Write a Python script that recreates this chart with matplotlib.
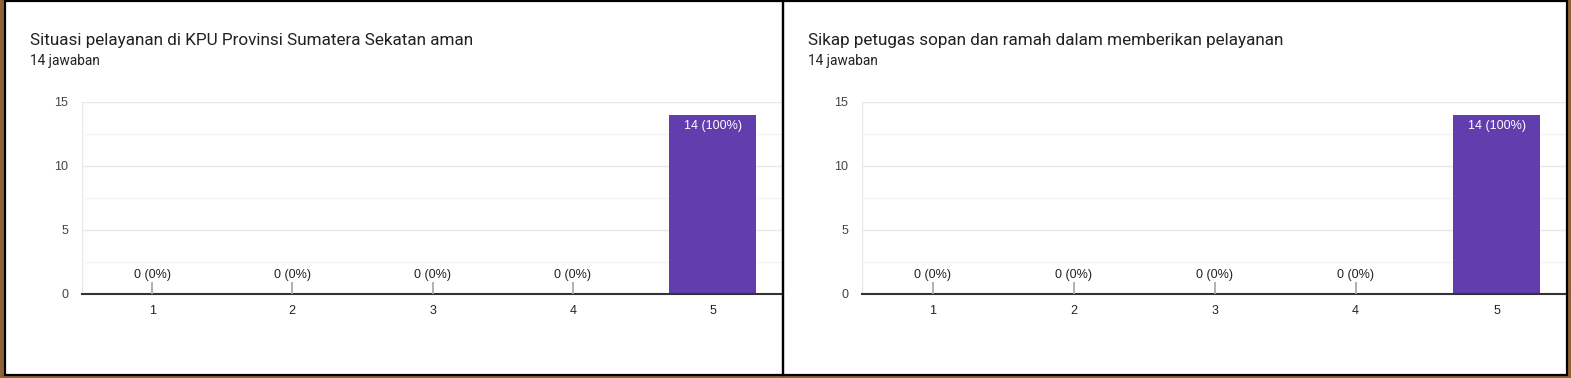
import matplotlib
matplotlib.use("Agg")
import matplotlib.pyplot as plt
from matplotlib.patches import Rectangle

plt.rcParams['font.family'] = ['Roboto', 'DejaVu Sans']
CHART_FONT = ['Liberation Sans', 'DejaVu Sans']

categories = [1, 2, 3, 4, 5]
titles = ["Situasi pelayanan di KPU Provinsi Sumatera Sekatan aman",
          "Sikap petugas sopan dan ramah dalam memberikan pelayanan"]
subtitles = ["14 jawaban", "14 jawaban"]
values_left = [0, 0, 0, 0, 14]
values_right = [0, 0, 0, 0, 14]
total = 14
yticks = [0, 5, 10, 15]

W, H = 1571, 378
fig = plt.figure(figsize=(W / 100, H / 100), dpi=100, facecolor='#8f6236')

def fx(px):
    return px / W

def fy(py):
    return 1 - py / H

# panels
panels = [(5, 783), (783, 1567)]
for (x0, x1) in panels:
    fig.patches.append(Rectangle((fx(x0), fy(375)), fx(x1 - x0), (375 - 1) / H,
                                 transform=fig.transFigure, facecolor='white',
                                 edgecolor='none', zorder=-5))
# borders drawn on top
for (x0, x1) in panels:
    fig.patches.append(Rectangle((fx(x0), fy(375)), fx(x1 - x0), (375 - 1) / H,
                                 transform=fig.transFigure, facecolor='none',
                                 edgecolor='black', linewidth=1.6, zorder=20))

bar_color = '#613dad'
axes_x = [(82, 783), (862, 1567)]
for i, vals in enumerate([values_left, values_right]):
    ax0, ax1 = axes_x[i]
    px0 = panels[i][0]
    fig.text(fx(px0 + 25), fy(40), titles[i], fontsize=12.35, color='#202124',
             va='center', ha='left')
    fig.text(fx(px0 + 25), fy(61), subtitles[i], fontsize=9.8, color='#202124',
             va='center', ha='left')
    ax = fig.add_axes([fx(ax0), fy(294), fx(ax1 - ax0), 192 / H])
    ax.set_zorder(2)
    ax.set_facecolor('none')
    ax.set_xlim(0.5, 5.5)
    ax.set_ylim(0, 15)
    for s in ['top', 'right', 'left']:
        ax.spines[s].set_visible(False)
    ax.spines['bottom'].set_color('#333333')
    ax.spines['bottom'].set_linewidth(1.5)
    ax.set_yticks(yticks)
    ax.set_yticks([2.5, 7.5, 12.5], minor=True)
    ax.grid(True, axis='y', which='major', color='#e8e8e8', linewidth=1)
    ax.grid(True, axis='y', which='minor', color='#f3f3f3', linewidth=1)
    ax.set_axisbelow(True)
    ax.tick_params(axis='y', which='both', length=0, pad=10, labelsize=9, labelcolor='#444444')
    ax.tick_params(axis='x', length=0, pad=8, labelsize=9, labelcolor='#222222')
    ax.set_xticks(categories)
    ax.set_xticklabels([str(c) for c in categories])
    for lab in ax.get_xticklabels() + ax.get_yticklabels():
        lab.set_fontfamily(CHART_FONT)
    ax.axvline(0.5, color='#e8e8e8', linewidth=1, zorder=0)
    ax.bar(categories, vals, width=0.62, color=bar_color, zorder=2)
    for c, v in zip(categories, vals):
        pct = round(100 * v / total)
        if v == 0:
            ax.vlines(c, 0, 0.9, color='#aaaaaa', linewidth=1.3, zorder=3)
            ax.text(c, 1.05, f"{v} ({pct}%)", ha='center', va='bottom',
                    fontsize=9, color='#222222', family=CHART_FONT)
        else:
            ax.annotate(f"{v} ({pct}%)", (c, v), xytext=(0, -4),
                        textcoords='offset points', ha='center', va='top',
                        fontsize=9, color='white', family=CHART_FONT)

fig.savefig('out.png', dpi=100, facecolor=fig.get_facecolor())
